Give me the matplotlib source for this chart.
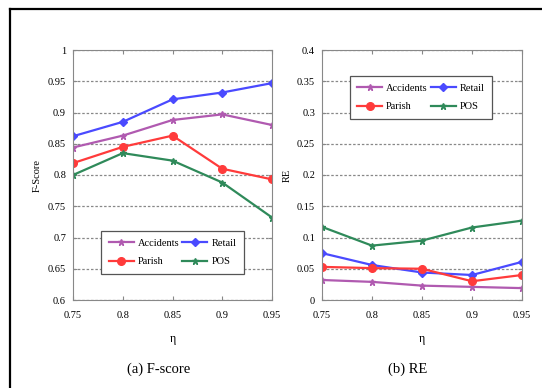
import matplotlib
matplotlib.use("Agg")
import matplotlib.pyplot as plt
from matplotlib.lines import Line2D

plt.rcParams['font.family'] = ['Liberation Serif', 'DejaVu Serif']

# x values (eta)
eta = [0.75, 0.8, 0.85, 0.9, 0.95]
eta_labels = ['0.75', '0.8', '0.85', '0.9', '0.95']

# (a) F-score
fs_accidents = [0.844, 0.863, 0.888, 0.897, 0.880]
fs_retail = [0.862, 0.885, 0.921, 0.932, 0.947]
fs_parish = [0.819, 0.845, 0.863, 0.810, 0.793]
fs_pos = [0.800, 0.835, 0.823, 0.788, 0.732]
fs_ticks = [0.6, 0.65, 0.7, 0.75, 0.8, 0.85, 0.9, 0.95, 1.0]
fs_tick_labels = ['0.6', '0.65', '0.7', '0.75', '0.8', '0.85', '0.9', '0.95', '1']

# (b) RE
re_accidents = [0.032, 0.029, 0.023, 0.021, 0.019]
re_retail = [0.075, 0.056, 0.044, 0.040, 0.061]
re_parish = [0.053, 0.051, 0.050, 0.030, 0.040]
re_pos = [0.117, 0.087, 0.095, 0.116, 0.127]
re_ticks = [0, 0.05, 0.1, 0.15, 0.2, 0.25, 0.3, 0.35, 0.4]
re_tick_labels = ['0', '0.05', '0.1', '0.15', '0.2', '0.25', '0.3', '0.35', '0.4']

series_names = ['Accidents', 'Retail', 'Parish', 'POS']
colors = {'Accidents': '#b05ab0', 'Retail': '#4a4aff', 'Parish': '#ff3b3b', 'POS': '#2f8a5a'}
markers = {'Accidents': '*', 'Retail': 'D', 'Parish': 'o', 'POS': '*'}
msizes = {'Accidents': 4.5, 'Retail': 4.5, 'Parish': 5.5, 'POS': 4.5}

fig = plt.figure(figsize=(5.42, 3.88), dpi=100)
fig.patch.set_facecolor('white')

# scanned frame (top and left edges)
fig.add_artist(Line2D([10 / 542, 1.0], [1 - 9 / 388, 1 - 9 / 388], color='black', lw=1.6))
fig.add_artist(Line2D([10 / 542, 10 / 542], [0, 1 - 9 / 388], color='black', lw=1.6))

ax1 = fig.add_axes([73 / 542, 88 / 388, 199 / 542, 250 / 388])
ax2 = fig.add_axes([322 / 542, 88 / 388, 200 / 542, 250 / 388])


def draw(ax, data, ticks, tick_labels, ylim, ylabel, leg_anchor):
    for name in series_names:
        ax.plot(eta, data[name], color=colors[name], marker=markers[name],
                markersize=msizes[name], lw=1.6, label=name)
    ax.set_xlim(0.75, 0.95)
    ax.set_ylim(*ylim)
    ax.set_xticks(eta)
    ax.set_xticklabels(eta_labels)
    ax.set_yticks(ticks)
    ax.set_yticklabels(tick_labels)
    ax.tick_params(direction='in', top=True, right=True, labelsize=7.5,
                   length=3, color='#888888')
    ax.tick_params(axis='x', pad=8)
    ax.tick_params(axis='y', pad=5)
    ax.yaxis.grid(True, linestyle=(0, (2, 1.5)), color='#888888', lw=0.9)
    for s in ax.spines.values():
        s.set_color('#888888')
    ax.set_ylabel(ylabel, fontsize=7.5)
    ax.set_xlabel('η', fontsize=8.5, labelpad=9)
    h, l = ax.get_legend_handles_labels()
    order = [0, 2, 1, 3]
    leg = ax.legend([h[i] for i in order], [l[i] for i in order], ncol=2,
                    loc='center', bbox_to_anchor=leg_anchor, fontsize=7.5,
                    fancybox=False, framealpha=1, edgecolor='#555555',
                    handlelength=2.4, columnspacing=0.3, handletextpad=0.4,
                    borderpad=0.7, labelspacing=0.9)
    leg.get_frame().set_linewidth(0.9)


draw(ax1, {'Accidents': fs_accidents, 'Retail': fs_retail,
           'Parish': fs_parish, 'POS': fs_pos},
     fs_ticks, fs_tick_labels, (0.6, 1.0), 'F-Score', (0.5, 0.19))
draw(ax2, {'Accidents': re_accidents, 'Retail': re_retail,
           'Parish': re_parish, 'POS': re_pos},
     re_ticks, re_tick_labels, (0, 0.4), 'RE', (0.495, 0.81))

fig.text(159 / 542, 1 - 369 / 388, '(a) F-score', ha='center', va='center', fontsize=10.5)
fig.text(408 / 542, 1 - 369 / 388, '(b) RE', ha='center', va='center', fontsize=10.5)

fig.savefig('out.png', dpi=100)
